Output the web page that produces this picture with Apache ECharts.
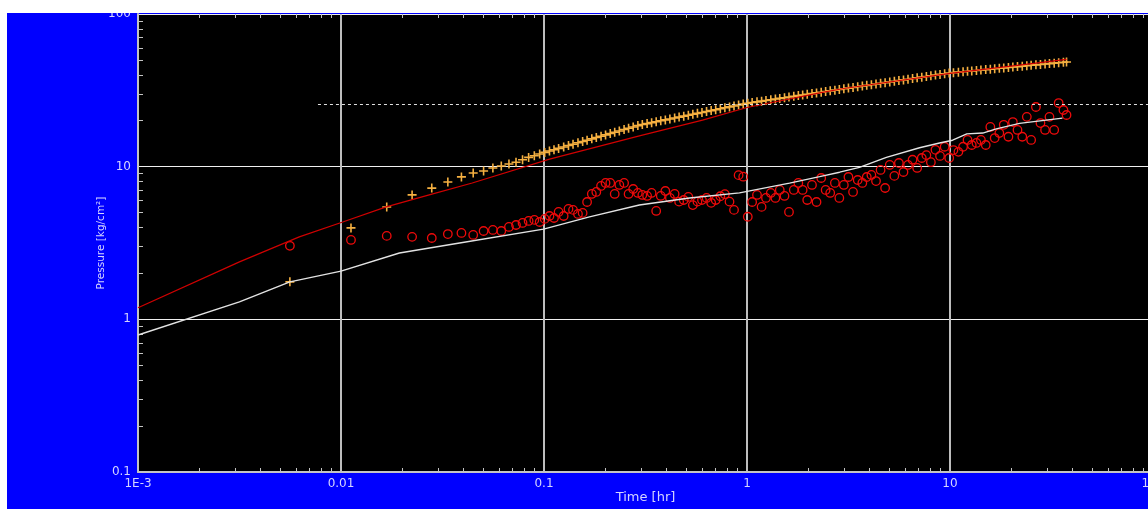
<!DOCTYPE html>
<html>
<head>
<meta charset="utf-8">
<title>Pressure vs Time</title>
<script src="https://cdn.jsdelivr.net/npm/echarts@6/dist/echarts.min.js"></script>
<style>
  html, body { margin: 0; padding: 0; background: #ffffff; overflow: hidden; width: 1148px; height: 509px; }
  #chart { position: absolute; left: 7px; top: 13px; width: 1160px; height: 496px; }
</style>
</head>
<body>
<div id="chart"></div>
<script>
// Axis ticks
const xTickLabels = ['1E-3', '0.01', '0.1', '1', '10', '100'];
const yTickLabels = ['0.1', '1', '10', '100'];
const xMinorTicks = [
  0.002, 0.003, 0.004, 0.005, 0.006, 0.007, 0.008, 0.009,
  0.02, 0.03, 0.04, 0.05, 0.06, 0.07, 0.08, 0.09,
  0.2, 0.3, 0.4, 0.5, 0.6, 0.7, 0.8, 0.9,
  2, 3, 4, 5, 6, 7, 8, 9,
  20, 30, 40, 50, 60, 70, 80, 90
];
const yMinorTicks = [
  0.2, 0.3, 0.4, 0.5, 0.6, 0.7, 0.8, 0.9,
  2, 3, 4, 5, 6, 7, 8, 9,
  20, 30, 40, 50, 60, 70, 80, 90
];

// Measured samples (hr)
const sampleTimes = [
  0.0056, 0.0112, 0.0168, 0.0224, 0.028, 0.0336, 0.0392, 0.0448, 0.0504, 0.056, 0.0616, 0.0672, 0.0728, 0.0784, 0.084, 0.0896, 0.0952, 0.1008,
  0.1064, 0.112, 0.118, 0.125, 0.132, 0.139, 0.147, 0.155, 0.163, 0.172, 0.181, 0.191, 0.201, 0.212, 0.223, 0.235, 0.248, 0.261, 0.275, 0.29,
  0.305, 0.322, 0.339, 0.357, 0.376, 0.396, 0.417, 0.44, 0.463, 0.488, 0.514, 0.541, 0.57, 0.6, 0.632, 0.666, 0.701, 0.739, 0.778, 0.82, 0.863, 0.909, 0.958, 1.009,
  1.06, 1.12, 1.18, 1.24, 1.31, 1.38, 1.45, 1.53, 1.61, 1.7, 1.79, 1.88, 1.98, 2.09, 2.2, 2.32, 2.44, 2.57, 2.71, 2.85,
  3.0, 3.16, 3.33, 3.51, 3.7, 3.89, 4.1, 4.32, 4.55, 4.79, 5.05, 5.32, 5.6, 5.9, 6.21, 6.54, 6.89, 7.26, 7.65, 8.05,
  8.48, 8.93, 9.41, 9.91,
  10.4, 11.0, 11.6, 12.2, 12.8, 13.5, 14.2, 15.0, 15.8, 16.6, 17.5, 18.4, 19.4, 20.4, 21.5, 22.7, 23.9, 25.1, 26.5, 27.9,
  29.4, 30.9, 32.6, 34.3, 36.2, 37.5
];

// Pressure change (kg/cm2)
const pressureChange = [
  1.76, 3.97, 5.44, 6.53, 7.24, 7.94, 8.57, 9.09, 9.37, 9.8, 10.1, 10.4, 10.7, 11.1, 11.5, 11.8, 12.1, 12.4,
  12.66, 12.91, 13.17, 13.46, 13.75, 14.02, 14.33, 14.62, 14.91, 15.21, 15.51, 15.83, 16.15, 16.48, 16.8, 17.14, 17.5, 17.84, 18.2, 18.58,
  18.87, 19.15, 19.42, 19.69, 19.97, 20.25, 20.53, 20.83, 21.12, 21.42, 21.73, 22.03, 22.34, 22.65, 22.97, 23.3, 23.62, 23.96, 24.3, 24.64, 24.99, 25.34, 25.7, 26.05,
  26.3, 26.59, 26.87, 27.13, 27.43, 27.72, 28.0, 28.3, 28.6, 28.91, 29.21, 29.5, 29.79, 30.11, 30.42, 30.74, 31.06, 31.38, 31.71, 32.03,
  32.36, 32.7, 33.04, 33.39, 33.74, 34.08, 34.43, 34.8, 35.15, 35.51, 35.89, 36.26, 36.64, 37.02, 37.4, 37.79, 38.18, 38.58, 38.99, 39.38,
  39.79, 40.2, 40.62, 41.04,
  41.3, 41.59, 41.87, 42.13, 42.39, 42.67, 42.94, 43.24, 43.52, 43.79, 44.08, 44.36, 44.65, 44.93, 45.23, 45.54, 45.83, 46.12, 46.43, 46.73,
  47.03, 47.33, 47.64, 47.95, 48.27, 48.49
];

// Pressure derivative (kg/cm2)
const pressureDerivative = [
  3.03, 3.31, 3.52, 3.47, 3.41, 3.62, 3.68, 3.57, 3.79, 3.85, 3.79, 4.03, 4.15, 4.28, 4.41, 4.48, 4.34, 4.55,
  4.75, 4.61, 5.05, 4.75, 5.29, 5.21, 4.9, 4.98, 5.87, 6.63, 6.83, 7.48, 7.82, 7.82, 6.63, 7.59, 7.82, 6.63, 7.14, 6.73,
  6.53, 6.43, 6.73, 5.13, 6.43, 6.93, 6.24, 6.63, 5.9, 6.05, 6.34, 5.6, 5.9, 6.05, 6.24, 5.8, 6.05, 6.4, 6.6, 5.9, 5.21, 8.8, 8.6, 4.7,
  5.87, 6.53, 5.45, 6.24, 6.73, 6.24, 7.04, 6.43, 5.05, 7.04, 7.82, 7.04, 6.05, 7.59, 5.87, 8.43, 7.04, 6.73, 7.82, 6.24,
  7.59, 8.56, 6.83, 8.18, 7.82, 8.56, 8.83, 8.05, 9.52, 7.25, 10.26, 8.7, 10.57, 9.23, 10.26, 11.1, 9.81, 11.4, 11.9, 10.7,
  12.9, 11.75, 13.5, 11.4,
  12.85, 12.5, 13.5, 14.96, 13.87, 14.3, 14.96, 13.87, 18.2, 15.4, 16.6, 18.8, 15.7, 19.6, 17.4, 15.7, 21.2, 14.96, 24.6, 19.3,
  17.4, 21.2, 17.4, 26.1, 23.5, 21.8
];

// Model pressure change
const modelTime = [0.001, 0.00316, 0.00623, 0.0102, 0.0167, 0.0272, 0.0443, 0.1065, 0.295, 0.604, 1.0, 2.28, 3.0, 10.0, 22.0, 37.5];
const modelPressure = [1.19, 2.38, 3.47, 4.34, 5.45, 6.53, 7.82, 11.2, 15.9, 20.2, 24.4, 30.4, 32.5, 40.8, 46.3, 50.5];

// Model derivative
const modelDerivTime = [0.001, 0.00316, 0.0056, 0.01, 0.0194, 0.0384, 0.0995, 0.1675, 0.295, 0.521, 0.918, 1.62, 2.28, 2.86, 3.58, 4.86, 7.08, 8.88, 10.3, 12.1, 14.5, 16.9, 22.0, 35.8];
const modelDeriv = [0.79, 1.3, 1.76, 2.07, 2.72, 3.16, 3.9, 4.69, 5.61, 6.24, 6.73, 7.8, 8.6, 9.2, 9.9, 11.5, 13.3, 14.3, 14.9, 16.4, 16.6, 17.7, 19.2, 20.8];

// Stabilised level line
const levelValue = 25.8;
const levelStart = 0.0077;
const levelEnd = 100;

const zip = (xs, ys) => xs.map((x, i) => [x, ys[i]]);

const labelColor = '#d4d4ff';
const axisGray = '#c4c4c4';
const font = 'DejaVu Sans';

function minorX(position) {
  return {
    type: 'log', logBase: 10, min: 0.001, max: 100, position: position,
    axisLine: { show: false, onZero: false },
    axisLabel: { show: false },
    splitLine: { show: false },
    axisTick: { show: true, inside: true, length: 4, customValues: xMinorTicks,
      lineStyle: { color: axisGray, width: 1 } }
  };
}

const chart = echarts.init(document.getElementById('chart'), null, { renderer: 'canvas' });
chart.setOption({
  animation: false,
  backgroundColor: '#0000ff',
  grid: {
    left: 131, top: 1, right: 14, bottom: 37,
    show: true, backgroundColor: '#000000', borderWidth: 0,
    containLabel: false, outerBoundsMode: 'none'
  },
  xAxis: [
    {
      type: 'log', logBase: 10, min: 0.001, max: 100, position: 'bottom',
      name: 'Time [hr]', nameLocation: 'middle', nameGap: 19, nameMoveOverlap: false,
      nameTextStyle: { color: labelColor, fontFamily: font, fontSize: 13 },
      axisLine: { show: true, onZero: false, lineStyle: { color: axisGray, width: 2 } },
      axisTick: { show: false },
      axisLabel: {
        color: labelColor, fontFamily: font, fontSize: 12, margin: 6,
        showMinLabel: true, showMaxLabel: true,
        formatter: v => xTickLabels[Math.round(Math.log10(v)) + 3] || ''
      },
      splitLine: { show: true, lineStyle: { color: '#bdbdbd', width: 2 } }
    },
    minorX('bottom'),
    minorX('top')
  ],
  yAxis: [
    {
      type: 'log', logBase: 10, min: 0.1, max: 100, position: 'left',
      name: 'Pressure [kg/cm²]', nameLocation: 'middle', nameGap: 31, nameRotate: 90,
      nameMoveOverlap: false,
      nameTextStyle: { color: labelColor, fontFamily: font, fontSize: 10.5 },
      axisLine: { show: true, onZero: false, lineStyle: { color: axisGray, width: 2 } },
      axisTick: { show: false },
      axisLabel: {
        color: labelColor, fontFamily: font, fontSize: 12, margin: 7,
        showMinLabel: true, showMaxLabel: true,
        formatter: v => yTickLabels[Math.round(Math.log10(v)) + 1] || ''
      },
      splitLine: { show: true, lineStyle: { color: '#f0f0f0', width: 1.2 } }
    },
    {
      type: 'log', logBase: 10, min: 0.1, max: 100, position: 'left',
      axisLine: { show: false, onZero: false },
      axisLabel: { show: false },
      splitLine: { show: false },
      axisTick: { show: true, inside: true, length: 5, customValues: yMinorTicks,
        lineStyle: { color: axisGray, width: 1 } }
    }
  ],
  series: [
    {
      name: 'Pressure change',
      type: 'scatter',
      xAxisIndex: 0, yAxisIndex: 0,
      data: zip(sampleTimes, pressureChange),
      symbol: 'path://M5,0 L5,10 M0,5 L10,5',
      symbolSize: 9,
      itemStyle: { color: 'transparent', borderColor: '#f5b041', borderWidth: 1.6, opacity: 1 },
      z: 2
    },
    {
      name: 'Pressure derivative',
      type: 'scatter',
      xAxisIndex: 0, yAxisIndex: 0,
      data: zip(sampleTimes, pressureDerivative),
      symbol: 'circle',
      symbolSize: 8.5,
      itemStyle: { color: 'transparent', borderColor: '#ee0a0a', borderWidth: 1.3, opacity: 1 },
      z: 2
    },
    {
      name: 'Model pressure',
      type: 'line',
      xAxisIndex: 0, yAxisIndex: 0,
      data: zip(modelTime, modelPressure),
      showSymbol: false, symbol: 'none',
      lineStyle: { color: '#d00000', width: 1.2 },
      z: 3,
      markLine: {
        silent: true, symbol: 'none',
        label: { show: false },
        lineStyle: { color: '#e0e0e0', type: [3, 3], width: 1 },
        data: [[{ coord: [levelStart, levelValue] }, { coord: [levelEnd, levelValue] }]]
      }
    },
    {
      name: 'Model derivative',
      type: 'line',
      xAxisIndex: 0, yAxisIndex: 0,
      data: zip(modelDerivTime, modelDeriv),
      showSymbol: false, symbol: 'none',
      lineStyle: { color: '#e2e2e2', width: 1.4 },
      z: 3
    }
  ]
});
</script>
</body>
</html>
